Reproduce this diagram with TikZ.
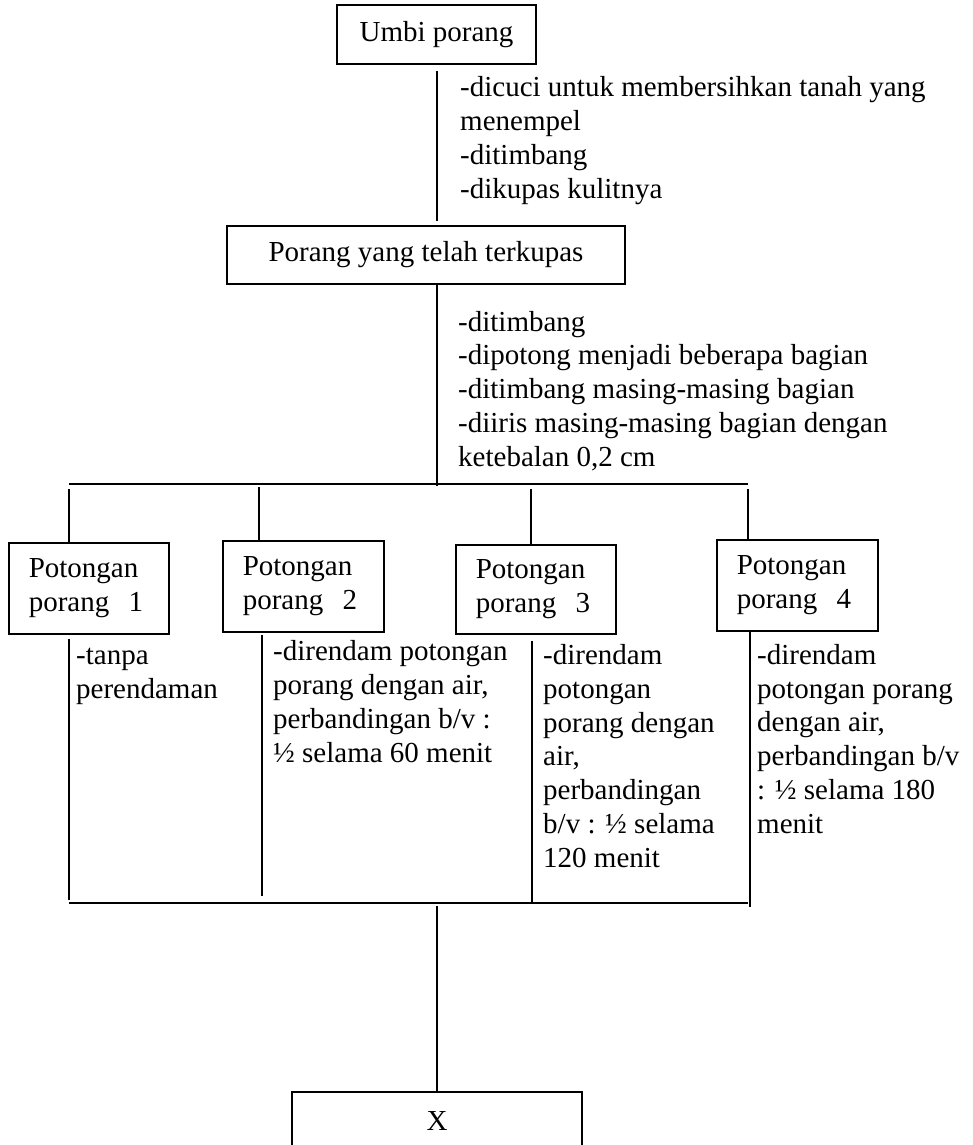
\documentclass[tikz,border=0pt]{standalone}
\usepackage{fontspec}
\setmainfont{Liberation Serif}
\begin{document}
\begin{tikzpicture}[x=1pt,y=-1pt,
  ln/.style={line width=1.5pt},
  box/.style={draw,line width=1.5pt,inner sep=0pt,font=\fontsize{29}{33.7}\selectfont},
  pbox/.style={draw,line width=1.5pt,anchor=north west,inner xsep=20pt,inner ysep=0pt,
    align=left,font=\fontsize{29}{33.7}\selectfont},
  lbl/.style={anchor=base west,inner sep=0pt,align=left,font=\fontsize{29}{33.7}\selectfont}]
\useasboundingbox (0,0) rectangle (973,1145);
\clip (0,0) rectangle (973,1145);
% main boxes
\node[box,minimum width=199pt,minimum height=59pt] (umbi) at (436.5,34.5) {Umbi porang};
\node[box,minimum width=398pt,minimum height=58pt] (kupas) at (426,255) {Porang yang telah terkupas};
\node[box,minimum width=290pt,minimum height=58pt] (x) at (437,1121) {X};
% four pieces
\node[pbox,text width=120pt,minimum height=91pt] (p1) at (8,542) {Potongan\\porang\ \ 1};
\node[pbox,text width=121pt,minimum height=91pt] (p2) at (222,540) {Potongan\\porang\ \ 2};
\node[pbox,text width=120pt,minimum height=89pt] (p3) at (455,544) {Potongan\\porang\ \ 3};
\node[pbox,text width=121pt,minimum height=91pt] (p4) at (716,539) {Potongan\\porang\ \ 4};
% process labels (anchored at the baseline of their last line)
\node[lbl] (la) at (460,198) {-dicuci untuk membersihkan tanah yang\\menempel\\-ditimbang\\-dikupas kulitnya};
\node[lbl] (lb) at (458,466) {-ditimbang\\-dipotong menjadi beberapa bagian\\-ditimbang masing-masing bagian\\-diiris masing-masing bagian dengan\\ketebalan 0,2 cm};
\node[lbl] (l1) at (76,698) {-tanpa\\perendaman};
\node[lbl] (l2) at (273,762) {-direndam potongan\\porang dengan air,\\perbandingan b/v :\\½ selama 60 menit};
\node[lbl] (l3) at (543,867) {-direndam\\potongan\\porang dengan\\air,\\perbandingan\\b/v : ½ selama\\120 menit};
\node[lbl] (l4) at (757,833) {-direndam\\potongan porang\\dengan air,\\perbandingan b/v\\: ½ selama 180\\menit};
% junction coordinates
\coordinate (axis) at (437,0);
\coordinate (j0) at (437,486);
\coordinate (barL) at (69,484);
\coordinate (barR) at (748,484);
\coordinate (t1) at (69,489);
\coordinate (t2) at (259,487);
\coordinate (t3) at (531,489);
\coordinate (t4) at (748,489);
\coordinate (d1) at (69,900);
\coordinate (d2) at (262,896);
\coordinate (d3) at (532,903);
\coordinate (d4) at (750,907);
\coordinate (bL) at (69,903);
\coordinate (bR) at (748,903);
\coordinate (j1) at (437,906);
% connectors
\draw[ln] ([yshift=-6pt]umbi.south -| axis) -- ([yshift=4pt]kupas.north -| axis);
\draw[ln] (kupas.south -| axis) -- (j0);
\draw[ln] (barL) -- (barR);
\draw[ln] (t1) -- (t1 |- p1.north);
\draw[ln] (t2) -- (t2 |- p2.north);
\draw[ln] (t3) -- (t3 |- p3.north);
\draw[ln] (t4) -- (t4 |- p4.north);
\draw[ln] ([yshift=-4pt]p1.south -| d1) -- (d1);
\draw[ln] ([yshift=-2pt]p2.south -| d2) -- (d2);
\draw[ln] ([yshift=-6pt]p3.south -| d3) -- (d3);
\draw[ln] ([yshift=2pt]p4.south -| d4) -- (d4);
\draw[ln] (bL) -- (bR);
\draw[ln] (j1) -- (x.north -| j1);
\end{tikzpicture}
\end{document}
